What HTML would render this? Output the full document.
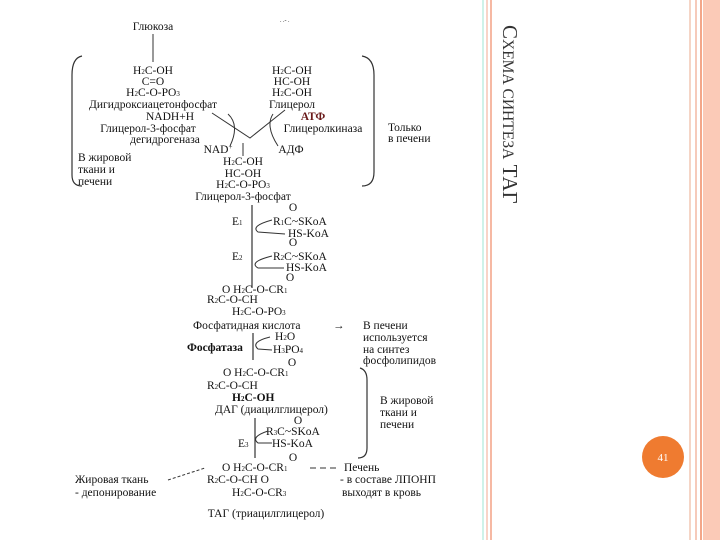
<!DOCTYPE html>
<html><head><meta charset="utf-8"><style>
html,body{margin:0;padding:0;background:#fff;}
svg{display:block}
text{font-family:"Liberation Serif","DejaVu Serif",serif;font-size:11.5px;fill:#111}
.m{text-anchor:middle}
</style></head><body>
<svg width="720" height="540" viewBox="0 0 720 540" xmlns="http://www.w3.org/2000/svg">
<rect width="720" height="540" fill="#fff"/>
<line x1="483" y1="0" x2="483" y2="540" stroke="#bfeee2" stroke-width="1.5"/>
<line x1="487" y1="0" x2="487" y2="540" stroke="#f3b8a3" stroke-width="1.2"/>
<line x1="491" y1="0" x2="491" y2="540" stroke="#f08a66" stroke-width="1.2"/>
<line x1="690" y1="0" x2="690" y2="540" stroke="#f5d5c6" stroke-width="2"/>
<line x1="696" y1="0" x2="696" y2="540" stroke="#f3b8a3" stroke-width="1.5"/>
<line x1="701" y1="0" x2="701" y2="540" stroke="#ef8a62" stroke-width="1.5"/>
<rect x="703" y="0" width="17" height="540" fill="#fbcab7"/>
<text transform="translate(503,25) rotate(90)" style="font-size:21px;fill:#333">С<tspan style="font-size:15.5px">ХЕМА СИНТЕЗА</tspan> ТАГ</text>
<circle cx="663" cy="457" r="21" fill="#ef7b30"/>
<text x="663" y="461" class="m" style="fill:#fff;font-size:11px">41</text>

<text x="153" y="30" class="m">Глюкоза</text>
<line x1="153" y1="34" x2="153" y2="62" stroke="#333" stroke-width="1"/>
<text x="280" y="22" style="font-size:6px">. .- .</text>
<path d="M82 56 Q72 58 72 75 L72 175 Q72 186 82 186" fill="none" stroke="#333" stroke-width="1.2"/>
<path d="M362 56 Q374 58 374 75 L374 172 Q374 186 362 186" fill="none" stroke="#333" stroke-width="1.2"/>
<text x="153" y="74" class="m">H<tspan style="font-size:7px">2</tspan>C-OH</text>
<text x="153" y="85" class="m">C=O</text>
<text x="153" y="96" class="m">H<tspan style="font-size:7px">2</tspan>C-O-PO<tspan style="font-size:7px">3</tspan></text>
<text x="153" y="108" class="m">Дигидроксиацетонфосфат</text>
<text x="292" y="74" class="m">H<tspan style="font-size:7px">2</tspan>C-OH</text>
<text x="292" y="85" class="m">HC-OH</text>
<text x="292" y="96" class="m">H<tspan style="font-size:7px">2</tspan>C-OH</text>
<text x="292" y="108" class="m">Глицерол</text>
<text x="170" y="120" class="m">NADH+H</text>
<text x="313" y="120" class="m" style="font-weight:bold;fill:#6a1a1a">АТФ</text>
<text x="148" y="132" class="m">Глицерол-3-фосфат</text>
<text x="165" y="143" class="m">дегидрогеназа</text>
<text x="323" y="132" class="m">Глицеролкиназа</text>
<text x="388" y="131">Только</text>
<text x="388" y="142">в печени</text>
<text x="218" y="153" class="m">NAD<tspan style="font-size:7px" dy="-4">+</tspan></text>
<text x="291" y="153" class="m">АДФ</text>
<text x="78" y="161">В жировой</text>
<text x="78" y="173">ткани и</text>
<text x="78" y="185">печени</text>
<path d="M212 113 L250 138 L285 110" fill="none" stroke="#333" stroke-width="1"/>
<path d="M228 114 Q240 125 230 146" fill="none" stroke="#333" stroke-width="1"/>
<path d="M273 114 Q265 126 278 146" fill="none" stroke="#333" stroke-width="1"/>
<line x1="243" y1="143" x2="243" y2="156" stroke="#333"/>
<text x="243" y="165" class="m">H<tspan style="font-size:7px">2</tspan>C-OH</text>
<text x="243" y="177" class="m">HC-OH</text>
<text x="243" y="188" class="m">H<tspan style="font-size:7px">2</tspan>C-O-PO<tspan style="font-size:7px">3</tspan></text>
<text x="243" y="200" class="m">Глицерол-3-фосфат</text>

<line x1="252" y1="205" x2="252" y2="288" stroke="#333" stroke-width="1.2"/>
<text x="293" y="211" class="m">O</text>
<text x="232" y="225">E<tspan style="font-size:7px">1</tspan></text>
<text x="273" y="225">R<tspan style="font-size:7px">1</tspan>C~SKoA</text>
<text x="288" y="237">HS-KoA</text>
<path d="M272 220 Q250 226 258 232 L285 234" fill="none" stroke="#333"/>
<text x="293" y="246" class="m">O</text>
<text x="232" y="260">E<tspan style="font-size:7px">2</tspan></text>
<text x="273" y="260">R<tspan style="font-size:7px">2</tspan>C~SKoA</text>
<text x="286" y="271">HS-KoA</text>
<path d="M272 256 Q248 262 258 268 L284 268" fill="none" stroke="#333"/>
<text x="290" y="281" class="m">O</text>
<text x="222" y="293">O H<tspan style="font-size:7px">2</tspan>C-O-CR<tspan style="font-size:7px">1</tspan></text>
<text x="207" y="303">R<tspan style="font-size:7px">2</tspan>C-O-CH</text>
<text x="232" y="315">H<tspan style="font-size:7px">2</tspan>C-O-PO<tspan style="font-size:7px">3</tspan></text>
<text x="193" y="329">Фосфатидная кислота</text>
<text x="333" y="329">→</text>
<text x="363" y="329">В печени</text>
<text x="363" y="341">используется</text>
<text x="363" y="353">на синтез</text>
<text x="363" y="364">фосфолипидов</text>
<text x="275" y="340">H<tspan style="font-size:7px">2</tspan>O</text>
<text x="187" y="351" style="font-weight:bold">Фосфатаза</text>
<text x="273" y="353">H<tspan style="font-size:7px">3</tspan>PO<tspan style="font-size:7px">4</tspan></text>
<line x1="253" y1="333" x2="253" y2="360" stroke="#333" stroke-width="1.2"/>
<path d="M270 337 Q250 342 258 349 L272 350" fill="none" stroke="#333"/>

<text x="292" y="366" class="m">O</text>
<text x="223" y="376">O H<tspan style="font-size:7px">2</tspan>C-O-CR<tspan style="font-size:7px">1</tspan></text>
<text x="207" y="389">R<tspan style="font-size:7px">2</tspan>C-O-CH</text>
<text x="232" y="401" style="font-weight:bold">H<tspan style="font-size:7px">2</tspan>C-OH</text>
<text x="215" y="413">ДАГ (диацилглицерол)</text>
<path d="M360 368 Q367 370 367 380 L367 448 Q367 458 358 458" fill="none" stroke="#333" stroke-width="1.2"/>
<text x="380" y="404">В жировой</text>
<text x="380" y="416">ткани и</text>
<text x="380" y="428">печени</text>
<line x1="255" y1="418" x2="255" y2="458" stroke="#333" stroke-width="1.2"/>
<text x="298" y="424" class="m">O</text>
<text x="266" y="435">R<tspan style="font-size:7px">3</tspan>C~SKoA</text>
<text x="238" y="447">E<tspan style="font-size:7px">3</tspan></text>
<text x="272" y="447">HS-KoA</text>
<path d="M268 431 Q250 437 258 443 L272 443" fill="none" stroke="#333"/>
<text x="293" y="461" class="m">O</text>
<text x="222" y="471">O H<tspan style="font-size:7px">2</tspan>C-O-CR<tspan style="font-size:7px">1</tspan></text>
<line x1="310" y1="468" x2="340" y2="468" stroke="#333" stroke-dasharray="6 4"/>
<text x="344" y="471">Печень</text>
<text x="75" y="483">Жировая ткань</text>
<line x1="168" y1="480" x2="205" y2="468" stroke="#333" stroke-dasharray="3 2"/>
<text x="207" y="483">R<tspan style="font-size:7px">2</tspan>C-O-CH   O</text>
<text x="340" y="483">- в составе ЛПОНП</text>
<text x="75" y="496">- депонирование</text>
<text x="232" y="496">H<tspan style="font-size:7px">2</tspan>C-O-CR<tspan style="font-size:7px">3</tspan></text>
<text x="342" y="496">выходят в кровь</text>
<text x="266" y="517" class="m">ТАГ (триацилглицерол)</text>
</svg>
</body></html>
